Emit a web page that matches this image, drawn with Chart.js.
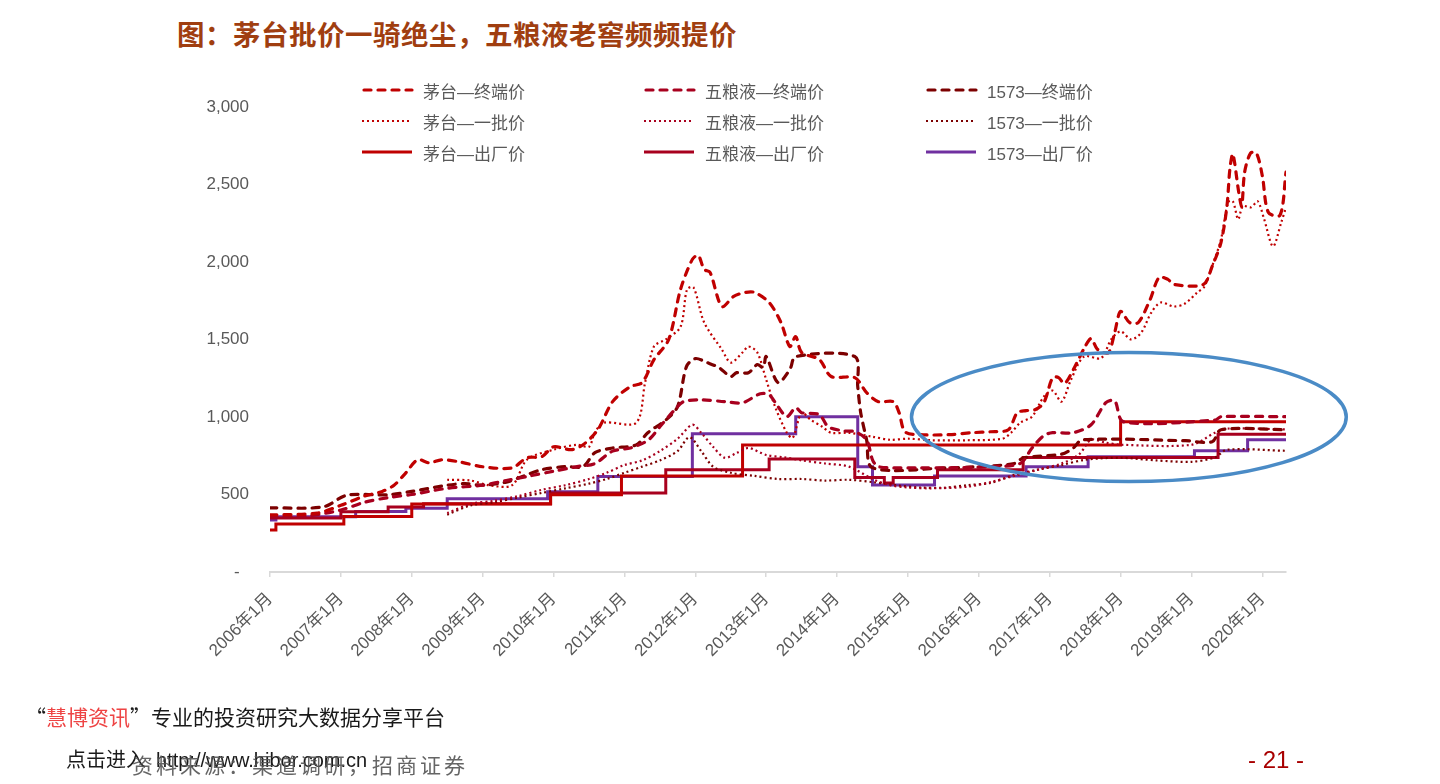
<!DOCTYPE html>
<html lang="zh-CN">
<head>
<meta charset="UTF-8">
<title>茅台批价一骑绝尘，五粮液老窖频频提价</title>
<script src="https://cdn.jsdelivr.net/npm/chart.js@4"></script>
<style>
  body { margin: 0; width: 1440px; height: 784px; background: #fff; position: relative; overflow: hidden;
         font-family: "Noto Sans CJK SC", sans-serif; }
  #chart { position: absolute; left: 0; top: 0; }
  .title { position: absolute; left: 177px; top: 13px; font-size: 27.5px; font-weight: bold; color: #a03e10;
           letter-spacing: 0.5px; white-space: nowrap; }
  .lg { position: absolute; height: 24px; display: flex; align-items: center; font-size: 17px; color: #595959;
        white-space: nowrap; font-family: "Liberation Sans", "Noto Sans CJK SC", sans-serif; }
  .lg svg { margin-right: 9px; }
  .src1 { position: absolute; left: 25px; top: 701px; font-size: 21px; color: #1a1a1a; white-space: nowrap; }
  .src1 span { color: #ee4444; }
  .src2 { position: absolute; left: 66px; top: 744px; font-size: 20px; color: #1a1a1a; white-space: nowrap; }
  .src2 b { font-weight: normal; font-family: "Liberation Sans", sans-serif; margin-left: 10px; }
  .src3 { position: absolute; left: 132px; top: 749px; font-size: 21px; color: #555; letter-spacing: 3px;
          white-space: nowrap; opacity: 0.9; }
  .page { position: absolute; left: 1248px; top: 746px; font-size: 24px; color: #a80000;
          font-family: "Liberation Sans", sans-serif; white-space: nowrap; }
</style>
</head>
<body>
<div class="title">图：茅台批价一骑绝尘，五粮液老窖频频提价</div>
<canvas id="chart" width="1440" height="784"></canvas>
<div id="legend"></div>
<div class="src1">“<span>慧博资讯</span>”专业的投资研究大数据分享平台</div>
<div class="src2">点击进入<b>http://www.hibor.com.cn</b></div>
<div class="src3">资料来源：渠道调研，招商证券</div>
<div class="page">- 21 -</div>

<script>
// months counted from 2006年1月 (= 0)
const xTickLabels = ['2006年1月', '2007年1月', '2008年1月', '2009年1月', '2010年1月', '2011年1月', '2012年1月',
  '2013年1月', '2014年1月', '2015年1月', '2016年1月', '2017年1月', '2018年1月', '2019年1月', '2020年1月'];

// 茅台—终端价
const mtTermM = [0, 8, 12, 16, 19, 21, 23, 25, 27, 29, 32, 36, 41, 43.5, 46, 48, 51, 53, 55.5, 58, 61, 63, 65, 67.5, 69.5,
  71.5, 72.5, 73.5, 74.5, 76.5, 78.5, 80.5, 82, 84.5, 86.5, 88, 89, 90, 93, 95, 99, 101, 103, 105.5, 106.5, 107.5, 110,
  115, 119, 122, 125, 126.5, 128, 129.5, 131, 132.5, 133.5, 134.5, 136, 138, 139, 140, 141, 142, 143, 144, 145.5, 147,
  149, 150.5, 152, 153, 158, 159.5, 161, 162, 162.5, 163, 164, 164.5, 165, 166, 167, 168, 169, 171, 172];
const mtTermV = [368, 380, 430, 490, 520, 560, 640, 724, 704, 724, 711, 679, 672, 737, 744, 808, 789, 821, 918, 1099, 1196,
  1222, 1370, 1500, 1823, 2017, 2043, 1952, 1933, 1713, 1778, 1804, 1804, 1739, 1610, 1455, 1519, 1416, 1371, 1261, 1254,
  1157, 1099, 1099, 1028, 905, 886, 886, 899, 905, 918, 1028, 1041, 1047, 1092, 1254, 1254, 1215, 1306, 1455, 1506, 1440,
  1416, 1416, 1545, 1681, 1610, 1610, 1758, 1900, 1888, 1855, 1855, 1972, 2127, 2360, 2599, 2696, 2450, 2360, 2580, 2702,
  2702, 2554, 2321, 2302, 2580];

// 五粮液—终端价
const wlyTermM = [0, 6, 12, 16, 20, 24, 30, 36, 40, 44, 48, 52, 55, 58, 61, 64, 66, 68.5, 70, 73, 77, 80, 83, 84.5, 86,
  87.5, 89, 90, 93, 94.5, 97, 99, 101, 102, 103, 110, 115, 122, 127, 129, 131, 132.5, 136, 139, 141.5, 143, 144.5, 160,
  161, 172];
const wlyTermV = [355, 360, 400, 450, 480, 500, 540, 560, 590, 620, 650, 680, 700, 780, 800, 850, 937, 1046, 1099, 1111,
  1099, 1092, 1150, 1144, 1067, 1002, 1060, 1028, 1015, 937, 911, 905, 853, 724, 679, 672, 672, 680, 700, 800, 880, 899,
  899, 950, 1092, 1105, 969, 980, 1002, 1002];

// 1573—终端价
const ltTermM = [0, 9, 13, 20, 24, 30, 33, 36, 40, 43, 46, 50, 53, 55, 58, 62, 64, 67, 69, 70.5, 72, 74, 76, 78, 79, 81,
  82.5, 83.5, 84, 86, 88, 89, 99, 99.5, 100, 101, 102, 115, 120, 126, 127.6, 134, 136, 137.5, 155, 159.5, 161, 172];
const ltTermV = [414, 420, 495, 498, 520, 560, 570, 560, 580, 620, 660, 680, 680, 770, 800, 820, 900, 980, 1067, 1325, 1377,
  1351, 1319, 1261, 1286, 1286, 1338, 1319, 1390, 1222, 1306, 1390, 1390, 1196, 1028, 853, 672, 672, 680, 700, 737, 760,
  800, 853, 847, 840, 918, 918];

// 茅台—一批价
const mtWholeM = [30, 34, 37, 41, 43.5, 48, 52, 54, 55, 56.5, 62, 63.5, 65, 67, 69.5, 70.6, 71.7, 73.5, 76.5, 78, 80, 81,
  82.5, 84, 85.5, 87.5, 88.5, 90, 91.5, 93.5, 95, 98, 102, 105, 108, 112, 118, 124, 125.5, 127, 129, 131, 132.5, 134,
  135.6, 137.8, 140.7, 142.4, 144, 145.8, 147.5, 149.2, 150.8, 153, 154.8, 157, 158.2, 159.9, 161, 162.2, 163, 163.9,
  164.7, 166.1, 167.2, 168.3, 169.8, 171.2, 172];
const mtWholeV = [595, 590, 560, 560, 724, 789, 821, 808, 900, 963, 963, 1222, 1455, 1500, 1582, 1823, 1836, 1610, 1435,
  1351, 1416, 1455, 1416, 1241, 1067, 898, 866, 1028, 983, 937, 898, 898, 873, 853, 860, 850, 850, 860, 900, 963, 1002,
  1131, 1170, 1099, 1241, 1390, 1380, 1500, 1552, 1500, 1545, 1674, 1739, 1713, 1730, 1804, 1843, 2017, 2146, 2386, 2392,
  2276, 2360, 2353, 2392, 2276, 2101, 2256, 2353];

// 五粮液—一批价
const wlyWholeM = [30, 34, 38, 42, 46, 50, 54, 57, 60, 63, 66, 69, 71.5, 73, 75, 77, 79, 81, 84, 87, 90, 94, 98, 102, 105,
  108, 112, 118, 122, 126, 130, 134, 137, 139, 141.5, 144, 156, 160, 162, 172];
const wlyWholeV = [380, 440, 460, 490, 530, 560, 600, 640, 690, 720, 780, 860, 950, 898, 808, 737, 768, 800, 755, 740, 720,
  700, 680, 600, 560, 545, 540, 550, 580, 620, 660, 700, 760, 853, 834, 821, 821, 899, 925, 920];

// 1573—一批价
const ltWholeM = [30, 34, 38, 42, 46, 50, 54, 57, 60, 63, 66, 69, 71, 73, 75, 78, 82, 86, 90, 94, 98, 102, 106, 110, 114,
  118, 122, 126, 130, 134, 138, 144, 150, 156, 160, 162, 172];
const ltWholeV = [370, 430, 450, 480, 510, 540, 570, 600, 640, 680, 720, 780, 870, 780, 680, 640, 620, 600, 600, 590, 595,
  580, 560, 545, 543, 560, 575, 627, 660, 690, 724, 737, 720, 711, 740, 789, 782];

// 出厂价 (value holds from its month on)
const mtFactM = [0, 1, 12.5, 24, 47.5, 59.5, 80, 144, 172];
const mtFactV = [271, 310, 358, 439, 499, 619, 819, 969, 969];
const wlyFactM = [0, 12, 20, 26, 47.5, 67, 84.5, 99, 104, 105.5, 113, 127.5, 160.5, 172];
const wlyFactV = [348, 388, 420, 440, 509, 659, 729, 609, 575, 609, 659, 739, 889, 889];
const ltFactM = [0, 1, 14.5, 23, 30, 47, 55.5, 71.5, 89, 99.5, 102, 112.5, 128, 138.5, 156.5, 165.5, 172];
const ltFactV = [336, 357, 390, 412, 472, 517, 616, 892, 1002, 679, 562, 620, 679, 744, 782, 853, 853];

// highlight ellipse, in chart units
const focusEllipse = { month: 145.4, value: 1000, monthRadius: 36.8, valueRadius: 416 };

const RED = '#c00000', CRIMSON = '#a8001e', DARK = '#7c0000', PURPLE = '#7030a0';

function pts(ms, vs) {
  return ms.map((m, i) => ({ x: m, y: vs[i] }));
}

const dashed = { borderDash: [7, 7], borderWidth: 3.2, borderCapStyle: 'round', tension: 0.3 };
const dotted = { borderDash: [2, 3], borderWidth: 2.2, borderCapStyle: 'butt', tension: 0.3 };
const solid = { borderWidth: 3, stepped: true, borderJoinStyle: 'miter' };

const datasets = [
  { label: '茅台—终端价', data: pts(mtTermM, mtTermV), borderColor: RED, ...dashed },
  { label: '五粮液—终端价', data: pts(wlyTermM, wlyTermV), borderColor: CRIMSON, ...dashed },
  { label: '1573—终端价', data: pts(ltTermM, ltTermV), borderColor: DARK, ...dashed },
  { label: '茅台—一批价', data: pts(mtWholeM, mtWholeV), borderColor: RED, ...dotted },
  { label: '五粮液—一批价', data: pts(wlyWholeM, wlyWholeV), borderColor: CRIMSON, ...dotted },
  { label: '1573—一批价', data: pts(ltWholeM, ltWholeV), borderColor: DARK, ...dotted },
  { label: '茅台—出厂价', data: pts(mtFactM, mtFactV), borderColor: RED, ...solid },
  { label: '五粮液—出厂价', data: pts(wlyFactM, wlyFactV), borderColor: CRIMSON, ...solid },
  { label: '1573—出厂价', data: pts(ltFactM, ltFactV), borderColor: PURPLE, ...solid }
];
datasets.forEach(d => { d.pointRadius = 0; d.fill = false; });

const ellipsePlugin = {
  id: 'focusEllipse',
  afterDatasetsDraw(c) {
    const xs = c.scales.x, ys = c.scales.y;
    const cx = xs.getPixelForValue(focusEllipse.month);
    const cy = ys.getPixelForValue(focusEllipse.value);
    const rx = xs.getPixelForValue(focusEllipse.month + focusEllipse.monthRadius) - cx;
    const ry = cy - ys.getPixelForValue(focusEllipse.value + focusEllipse.valueRadius);
    const g = c.ctx;
    g.save();
    g.beginPath();
    g.ellipse(cx, cy, rx, ry, 0, 0, Math.PI * 2);
    g.strokeStyle = '#4a8bc6';
    g.lineWidth = 3.5;
    g.stroke();
    g.restore();
  }
};

const tickFont = { family: '"Liberation Sans", "Noto Sans CJK SC", sans-serif', size: 17 };

new Chart(document.getElementById('chart'), {
  type: 'line',
  data: { datasets: datasets },
  options: {
    responsive: false,
    animation: false,
    devicePixelRatio: 1,
    layout: { padding: { left: 190, right: 154, top: 107, bottom: 112 } },
    plugins: { legend: { display: false }, tooltip: { enabled: false } },
    scales: {
      x: {
        type: 'linear', min: 0, max: 172,
        afterFit(s) { s.height = 100; },
        afterBuildTicks(s) { s.ticks = xTickLabels.map((l, i) => ({ value: i * 12 })); },
        ticks: {
          autoSkip: false, minRotation: 45, maxRotation: 45, padding: 12, color: '#595959', font: tickFont,
          callback: (v, i) => xTickLabels[i]
        },
        grid: { drawOnChartArea: false, drawTicks: true, tickLength: 5, color: '#d9d9d9', lineWidth: 1.5 },
        border: { color: '#d9d9d9', width: 2 }
      },
      y: {
        min: 0, max: 3000,
        afterFit(s) { s.width = 80; },
        ticks: {
          stepSize: 500, padding: 21, color: '#595959', font: { family: '"Liberation Sans", sans-serif', size: 17 },
          callback: v => v === 0 ? '-  ' : v.toLocaleString('en-US')
        },
        grid: { display: false, drawTicks: false },
        border: { display: false }
      }
    }
  },
  plugins: [ellipsePlugin]
});

// legend: 3 columns x 3 rows, built from the datasets
const legendCols = [362, 644, 926];
const legendRows = [90, 121, 152];
const legendBox = document.getElementById('legend');
datasets.forEach((d, i) => {
  const col = i % 3, row = Math.floor(i / 3);
  const item = document.createElement('div');
  item.className = 'lg';
  item.style.left = legendCols[col] + 'px';
  item.style.top = (legendRows[row] - 12) + 'px';
  const dash = d.borderDash ? d.borderDash.join(' ') : 'none';
  const cap = d.borderCapStyle === 'round' ? 'round' : 'butt';
  item.innerHTML = `<svg width="52" height="8"><line x1="${cap === 'round' ? 2 : 0}" y1="4" x2="50" y2="4" stroke="${d.borderColor}"
    stroke-width="${d.borderWidth}" stroke-dasharray="${dash}" stroke-linecap="${cap}"/></svg><span>${d.label}</span>`;
  legendBox.appendChild(item);
});
</script>
</body>
</html>
